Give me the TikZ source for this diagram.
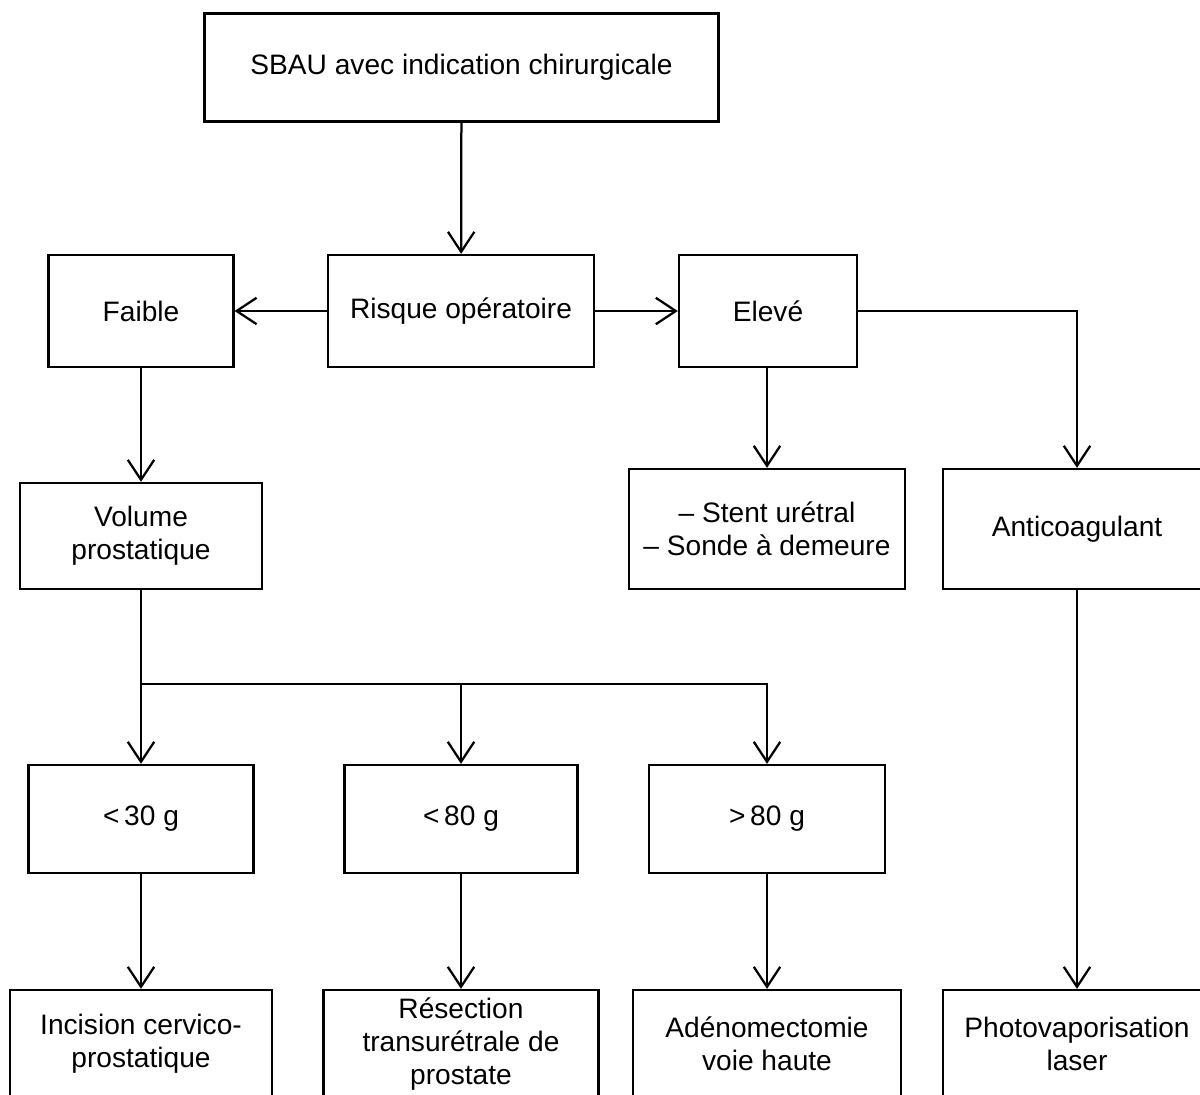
\documentclass[tikz,border=0pt]{standalone}
\usepackage{fontspec}
\setmainfont{Liberation Sans}
\usepackage{tikz}
\usetikzlibrary{arrows.meta}

\tikzset{
  box/.style={draw,line width=1.6pt,align=center,inner sep=0pt,
    font=\fontsize{20}{23.5}\selectfont},
  arr/.style={line width=1.6pt,-{Straight Barb[length=0.5cm,width=0.66cm,line width=1.6pt]}}
}

\begin{document}
\begin{tikzpicture}[x=0.025cm,y=-0.025cm]
	\clip (0,0) rectangle (1200,1095);
	\fill[white] (0,0) rectangle (1200,1095);
	% top and operative risk
	\node[box,minimum width=12.85cm,minimum height=2.7cm] (sbau) at (461.5,67.5) {SBAU avec indication chirurgicale};
	\node[box,minimum width=6.65cm,minimum height=2.8cm] (risque) at (461,311) {Risque opératoire};
	\node[box,minimum width=4.62cm,minimum height=2.8cm] (faible) at (141,311) {Faible};
	\node[box,minimum width=4.45cm,minimum height=2.8cm] (eleve) at (768,311) {Elevé};
	% second level
	\node[box,minimum width=6.05cm,minimum height=2.65cm] (volume) at (141,536) {Volume\\prostatique};
	\node[box,minimum width=6.9cm,minimum height=3cm] (stent) at (767,529) {-- Stent urétral\\-- Sonde à demeure};
	\node[box,minimum width=6.7cm,minimum height=3cm] (anticoag) at (1077,529) {Anticoagulant};
	% volume classes
	\node[box,minimum width=5.62cm,minimum height=2.7cm] (lt30) at (141,819) {<\,30 g};
	\node[box,minimum width=5.82cm,minimum height=2.7cm] (lt80) at (461,819) {<\,80 g};
	\node[box,minimum width=5.9cm,minimum height=2.7cm] (gt80) at (767,819) {>\,80 g};
	% treatments
	\node[box,minimum width=6.55cm,minimum height=2.7cm] (incision) at (141,1044) {Incision cervico-\\prostatique};
	\node[box,minimum width=6.87cm,minimum height=2.7cm] (resection) at (461,1044) {Résection\\transurétrale de\\prostate};
	\node[box,minimum width=6.7cm,minimum height=2.7cm] (adenom) at (767,1044) {Adénomectomie\\voie haute};
	\node[box,minimum width=6.7cm,minimum height=2.7cm] (photo) at (1077,1044) {Photovaporisation\\laser};
	\coordinate (fork) at (141,684);

	\draw[arr] (sbau) -- (risque);
	\draw[arr] (risque) -- (faible);
	\draw[arr] (risque) -- (eleve);
	\draw[arr] (faible) -- (volume);
	\draw[arr] (eleve.south -| stent) -- (stent);
	\draw[arr] (eleve.east) -| (anticoag.north);
	\draw[line width=1.6pt] (volume.south) -- (fork);
	\draw[arr] (fork) -- (lt30);
	\draw[arr] (fork) -| (lt80.north);
	\draw[arr] (fork) -| (gt80.north);
	\draw[arr] (lt30) -- (incision);
	\draw[arr] (lt80) -- (resection);
	\draw[arr] (gt80) -- (adenom);
	\draw[arr] (anticoag) -- (photo);
\end{tikzpicture}
\end{document}
